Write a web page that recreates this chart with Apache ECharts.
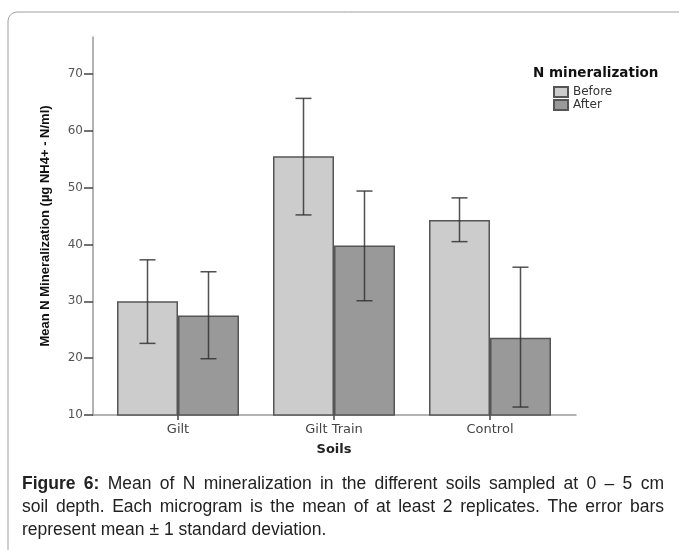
<!DOCTYPE html>
<html>
<head>
<meta charset="utf-8">
<script src="https://cdn.jsdelivr.net/npm/echarts@6/dist/echarts.min.js"></script>
<style>
html,body{margin:0;padding:0;background:#fff;}
#c{width:679px;height:550px;}
</style>
</head>
<body>
<div id="c"></div>
<script>
const categories = ['Gilt', 'Gilt Train', 'Control'];
const seriesNames = ['Before', 'After'];
const beforeMean = [30.0, 55.5, 44.3];
const afterMean = [27.5, 39.8, 23.6];
const beforeLow = [22.6, 45.2, 40.5];
const beforeHigh = [37.3, 65.7, 48.2];
const afterLow = [19.9, 30.1, 11.4];
const afterHigh = [35.2, 49.4, 36.0];
const yTicks = [10, 20, 30, 40, 50, 60, 70];
const yMin = 10, yMax = 76.5;
const yTitle = 'Mean N Mineralization (\u00b5g NH4+ - N/ml)';
const xTitle = 'Soils';
const legendTitle = 'N mineralization';
const captionLines = [
  'Figure 6: Mean of N mineralization in the different soils sampled at 0 \u2013 5 cm',
  'soil depth. Each microgram is the mean of at least 2 replicates. The error bars',
  'represent mean \u00b1 1 standard deviation.'
];

const chart = echarts.init(document.getElementById('c'), null, {renderer: 'canvas'});

const CAT_GAP = 0.218;
const errData = [];
categories.forEach((c, i) => {
  errData.push([i, beforeLow[i], beforeHigh[i], -1]);
  errData.push([i, afterLow[i], afterHigh[i], 1]);
});

const wideFont = 'DejaVu Sans, Verdana, sans-serif';
const capFont = 'Liberation Sans, Arial, sans-serif';
const capSize = 17.5;
const cv = document.createElement('canvas').getContext('2d');
function w(text, bold) {
  cv.font = (bold ? 'bold ' : '') + capSize + 'px ' + capFont;
  return cv.measureText(text).width;
}
const capLeft = 22, capRight = 664, capY = [484, 507, 530];
const capGraphics = [];
captionLines.forEach((line, li) => {
  const words = line.split(' ');
  const boldCount = li === 0 ? 2 : 0;
  if (li === captionLines.length - 1) {
    capGraphics.push({type: 'text', x: capLeft, y: capY[li],
      style: {text: line, font: capSize + 'px ' + capFont, fill: '#222', verticalAlign: 'middle'}});
    return;
  }
  const widths = words.map((wd, k) => w(wd, k < boldCount));
  const total = widths.reduce((a, b) => a + b, 0);
  const gap = (capRight - capLeft - total) / (words.length - 1);
  let x = capLeft;
  words.forEach((wd, k) => {
    capGraphics.push({type: 'text', x: x, y: capY[li],
      style: {text: wd, font: (k < boldCount ? 'bold ' : '') + capSize + 'px ' + capFont, fill: '#222', verticalAlign: 'middle'}});
    x += widths[k] + gap;
  });
});

const axisCol = '#9a9a9a';
const option = {
  backgroundColor: '#fff',
  animation: false,
  grid: [
    {left: 93, top: 37, width: 483, height: 378},
    {left: 100, top: 37, width: 468, height: 378}
  ],
  xAxis: [
    {type: 'value', gridIndex: 0, min: 0, max: 1,
      axisLine: {show: true, lineStyle: {color: axisCol, width: 1.5}},
      axisTick: {show: false}, axisLabel: {show: false}, splitLine: {show: false}},
    {type: 'category', gridIndex: 1, data: categories,
      axisLine: {show: false},
      axisTick: {show: true, alignWithLabel: true, length: 5, lineStyle: {color: '#444', width: 1.5}},
      axisLabel: {margin: 8, fontSize: 13, fontFamily: wideFont, color: '#444'},
      name: xTitle, nameLocation: 'middle', nameGap: 28,
      nameTextStyle: {fontSize: 13, fontWeight: 'bold', fontFamily: wideFont, color: '#222'}}
  ],
  yAxis: [
    {type: 'value', gridIndex: 0, min: yMin, max: yMax,
      axisLine: {show: true, lineStyle: {color: axisCol, width: 1.5}},
      axisTick: {show: true, length: 9, customValues: yTicks, lineStyle: {color: '#444', width: 1.5}},
      axisLabel: {margin: 10, fontSize: 12, customValues: yTicks, fontFamily: wideFont, color: '#555'},
      splitLine: {show: false},
      name: yTitle, nameLocation: 'middle', nameGap: 41, nameRotate: 90,
      nameTextStyle: {fontSize: 13, fontWeight: 'bold', fontFamily: 'Liberation Sans Narrow, Arial Narrow, Liberation Sans, sans-serif', color: '#111'}},
    {type: 'value', gridIndex: 1, min: yMin, max: yMax, show: false}
  ],
  legend: {
    orient: 'vertical', left: 553, top: 86, padding: 0,
    itemWidth: 14, itemHeight: 10, itemGap: 1, itemTextGap: 5,
    icon: 'rect',
    textStyle: {fontSize: 12, lineHeight: 10, fontFamily: wideFont, color: '#333'},
    data: seriesNames
  },
  graphic: [
    {type: 'rect', shape: {x: 8, y: 12, width: 720, height: 600, r: 9}, silent: true, z: -10,
      style: {fill: 'none', stroke: '#a0a0a0', lineWidth: 1}},
    {type: 'text', x: 533, y: 73, style: {text: legendTitle, font: 'bold 13.5px ' + wideFont, fill: '#111', verticalAlign: 'middle'}}
  ].concat(capGraphics),
  series: [
    {name: seriesNames[0], type: 'bar', xAxisIndex: 1, yAxisIndex: 1, data: beforeMean,
      barGap: '0%', barCategoryGap: (CAT_GAP * 100) + '%',
      itemStyle: {color: '#cccccc', borderColor: '#555', borderWidth: 1.5}},
    {name: seriesNames[1], type: 'bar', xAxisIndex: 1, yAxisIndex: 1, data: afterMean,
      barGap: '0%', barCategoryGap: (CAT_GAP * 100) + '%',
      itemStyle: {color: '#999999', borderColor: '#555', borderWidth: 1.5}},
    {type: 'custom', xAxisIndex: 1, yAxisIndex: 1, z: 10, data: errData,
      encode: {x: 0, y: [1, 2]},
      renderItem: function (params, api) {
        const idx = api.value(0), lo = api.value(1), hi = api.value(2), side = api.value(3);
        const band = api.size([1, 0])[0];
        const barW = band * (1 - CAT_GAP) / 2;
        const pLo = api.coord([idx, lo]);
        const pHi = api.coord([idx, hi]);
        const x = pLo[0] + side * barW / 2;
        const hw = 8;
        const st = {stroke: '#333', lineWidth: 1.5, opacity: 0.85};
        return {type: 'group', children: [
          {type: 'line', shape: {x1: x, y1: pLo[1], x2: x, y2: pHi[1]}, style: st},
          {type: 'line', shape: {x1: x - hw, y1: pLo[1], x2: x + hw, y2: pLo[1]}, style: st},
          {type: 'line', shape: {x1: x - hw, y1: pHi[1], x2: x + hw, y2: pHi[1]}, style: st}
        ]};
      }}
  ]
};
chart.setOption(option);
</script>
</body>
</html>
